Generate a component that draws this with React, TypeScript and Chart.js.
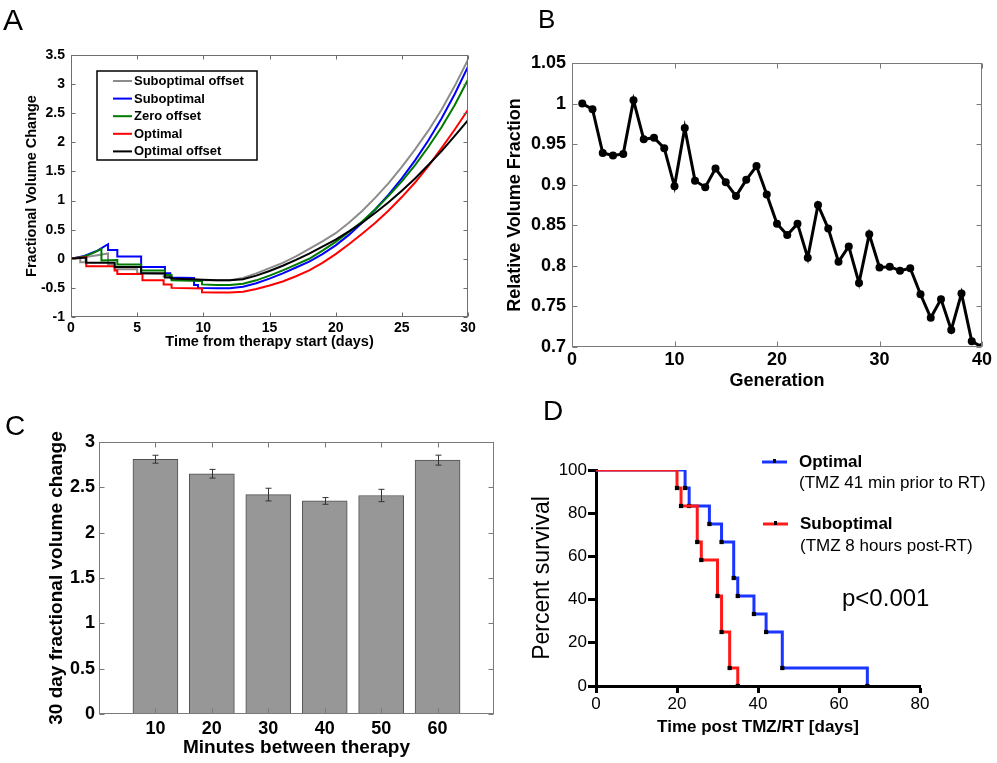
import React, { useEffect, useRef } from "react";
import { Chart, registerables } from "chart.js";

Chart.register(...registerables);

const FONT = "'Liberation Sans', Arial, Helvetica, sans-serif";
Chart.defaults.font.family = FONT;
Chart.defaults.color = "#000";

type Pt = [number, number];

// ---------------- Panel A : fractional volume change vs time (days) ----------------
const aSuboptimalOffset: Pt[] = [
  [0, 0], [0.7, 0.02], [0.7, -0.06], [1.1, -0.06], [1.1, 0.03], [2.0, 0.06], [2.8, 0.09], [2.8, -0.1],
  [3.3, -0.1], [3.3, -0.18], [5.0, -0.18], [5.0, -0.25], [7.0, -0.26], [7.0, -0.31], [7.6, -0.31],
  [7.6, -0.34], [10, -0.37], [11, -0.37], [12, -0.37], [13, -0.33], [14, -0.25], [15, -0.16],
  [16, -0.07], [17, 0.04], [18, 0.17], [19, 0.3], [20, 0.44], [21, 0.62], [22, 0.82], [23, 1.05],
  [24, 1.3], [25, 1.58], [26, 1.88], [27, 2.2], [28, 2.56], [29, 2.97], [30, 3.42],
];
const aSuboptimal: Pt[] = [
  [0, 0], [1.0, 0.05], [2.0, 0.14], [2.8, 0.25], [2.8, 0.15], [3.5, 0.15], [3.5, 0.04], [5.3, 0.04],
  [5.3, -0.14], [7.1, -0.14], [7.1, -0.25], [7.5, -0.25], [7.5, -0.32], [9.3, -0.33], [9.3, -0.45],
  [9.6, -0.45], [9.6, -0.5], [11, -0.505], [12, -0.505], [13, -0.48], [14, -0.42], [15, -0.34],
  [16, -0.25], [17, -0.15], [18, -0.05], [19, 0.08], [20, 0.23], [21, 0.41], [22, 0.62], [23, 0.85],
  [24, 1.1], [25, 1.38], [26, 1.69], [27, 2.03], [28, 2.41], [29, 2.83], [30, 3.3],
];
const aZeroOffset: Pt[] = [
  [0, 0], [1.0, 0.04], [1.7, 0.1], [2.3, 0.17], [2.3, -0.03], [3.5, -0.02], [3.5, -0.1], [5.3, -0.1],
  [5.3, -0.2], [7.1, -0.2], [7.1, -0.28], [7.6, -0.28], [7.6, -0.37], [9.9, -0.38], [9.9, -0.44],
  [11, -0.45], [12, -0.45], [13, -0.43], [14, -0.37], [15, -0.29], [16, -0.2], [17, -0.1], [18, 0.0],
  [19, 0.14], [20, 0.29], [21, 0.46], [22, 0.64], [23, 0.85], [24, 1.08], [25, 1.33], [26, 1.61],
  [27, 1.92], [28, 2.26], [29, 2.64], [30, 3.08],
];
const aOptimal: Pt[] = [
  [0, 0], [1.15, 0.03], [1.15, -0.13], [3.3, -0.13], [3.3, -0.2], [3.5, -0.2], [3.5, -0.26], [5.4, -0.26],
  [5.4, -0.37], [7.0, -0.37], [7.0, -0.44], [7.6, -0.44], [7.6, -0.5], [9.9, -0.51], [9.9, -0.575],
  [11, -0.58], [12, -0.58], [13, -0.565], [14, -0.52], [15, -0.46], [16, -0.39], [17, -0.3], [18, -0.2],
  [19, -0.07], [20, 0.08], [21, 0.25], [22, 0.43], [23, 0.62], [24, 0.83], [25, 1.06], [26, 1.31],
  [27, 1.59], [28, 1.9], [29, 2.22], [30, 2.56],
];
const aOptimalOffset: Pt[] = [
  [0, 0], [1.15, 0.02], [1.15, -0.07], [3.3, -0.07], [3.3, -0.14], [5.3, -0.14], [5.3, -0.25], [7.1, -0.25],
  [7.1, -0.32], [7.6, -0.32], [7.6, -0.34], [10, -0.36], [11, -0.37], [12, -0.37], [13, -0.35],
  [14, -0.29], [15, -0.21], [16, -0.12], [17, -0.02], [18, 0.09], [19, 0.21], [20, 0.33], [21, 0.47],
  [22, 0.62], [23, 0.79], [24, 0.97], [25, 1.17], [26, 1.38], [27, 1.61], [28, 1.85], [29, 2.11],
  [30, 2.38],
];
const aLabels = ["Suboptimal offset", "Suboptimal", "Zero offset", "Optimal", "Optimal offset"];

// ---------------- Panel B : relative volume fraction per generation ----------------
const bGeneration = [
  1, 2, 3, 4, 5, 6, 7, 8, 9, 10, 11, 12, 13, 14, 15, 16, 17, 18, 19, 20,
  21, 22, 23, 24, 25, 26, 27, 28, 29, 30, 31, 32, 33, 34, 35, 36, 37, 38, 39, 40,
];
const bRelativeVolume = [
  1.0, 0.993, 0.939, 0.936, 0.938, 1.004, 0.956, 0.958, 0.945, 0.898,
  0.97, 0.905, 0.897, 0.92, 0.903, 0.886, 0.906, 0.923, 0.888, 0.852,
  0.838, 0.852, 0.81, 0.875, 0.846, 0.805, 0.824, 0.779, 0.839, 0.798,
  0.799, 0.794, 0.797, 0.765, 0.736, 0.759, 0.721, 0.766, 0.707, 0.7,
];

// ---------------- Panel C : 30 day fractional volume change ----------------
const cMinutes = [10, 20, 30, 40, 50, 60];
const cVolumeChange = [2.81, 2.65, 2.42, 2.35, 2.41, 2.8];
const cError = [0.044, 0.048, 0.07, 0.037, 0.068, 0.055];

// ---------------- Panel D : Kaplan-Meier survival ----------------
const dOptimalDays = [0, 22, 23, 28, 31, 34, 35, 39, 42, 46, 67];
const dOptimalSurvival = [100, 91.67, 83.33, 75, 66.67, 50, 41.67, 33.33, 25, 8.33, 0];
const dSuboptimalDays = [0, 20, 21, 25, 26, 30, 31, 33, 35];
const dSuboptimalSurvival = [100, 91.67, 83.33, 66.67, 58.33, 41.67, 25, 8.33, 0];

// ---------------- helpers ----------------
const fmt = (v: any) => String(Number(Number(v).toFixed(2)));

function framePlugin(o: { color: string; len: number; xVals?: number[]; yVals?: number[] }) {
  return {
    id: "frameTicks",
    afterDatasetsDraw(chart: any) {
      const { ctx, chartArea: ca, scales } = chart;
      const L = Math.round(ca.left) + 0.5;
      const R = Math.round(ca.right) - 0.5;
      const T = Math.round(ca.top) + 0.5;
      const B = Math.round(ca.bottom) - 0.5;
      ctx.save();
      ctx.strokeStyle = o.color;
      ctx.lineWidth = 1;
      ctx.strokeRect(L, T, R - L, B - T);
      const xs = o.xVals ?? scales.x.ticks.map((t: any) => t.value);
      const ys = o.yVals ?? scales.y.ticks.map((t: any) => t.value);
      ctx.beginPath();
      for (const v of xs) {
        const p = Math.round(scales.x.getPixelForValue(v)) + 0.5;
        ctx.moveTo(p, B);
        ctx.lineTo(p, B - o.len);
        ctx.moveTo(p, T);
        ctx.lineTo(p, T + o.len);
      }
      for (const v of ys) {
        const p = Math.round(scales.y.getPixelForValue(v)) + 0.5;
        ctx.moveTo(L, p);
        ctx.lineTo(L + o.len, p);
        ctx.moveTo(R, p);
        ctx.lineTo(R - o.len, p);
      }
      ctx.stroke();
      ctx.restore();
    },
  };
}

type TextItem = {
  text: string;
  x: number;
  y: number;
  size: number;
  weight?: string;
  baseline?: CanvasTextBaseline;
};

function textPlugin(items: TextItem[]) {
  return {
    id: "texts",
    afterDraw(chart: any) {
      const ctx = chart.ctx;
      ctx.save();
      ctx.fillStyle = "#000";
      ctx.textAlign = "left";
      for (const it of items) {
        ctx.font = `${it.weight ?? "normal"} ${it.size}px ${FONT}`;
        ctx.textBaseline = it.baseline ?? "middle";
        ctx.fillText(it.text, it.x, it.y);
      }
      ctx.restore();
    },
  };
}

const legendAPlugin = {
  id: "legendA",
  afterDraw(chart: any) {
    const { ctx, chartArea: ca } = chart;
    const bx = ca.left + 26;
    const by = ca.top + 16;
    ctx.save();
    ctx.fillStyle = "#fff";
    ctx.fillRect(bx, by, 160, 89);
    ctx.strokeStyle = "#000";
    ctx.lineWidth = 1.5;
    ctx.strokeRect(bx, by, 160, 89);
    ctx.font = `bold 13px ${FONT}`;
    ctx.textBaseline = "middle";
    ctx.fillStyle = "#000";
    chart.data.datasets.forEach((ds: any, i: number) => {
      const y = by + 10 + i * 17.6;
      ctx.strokeStyle = ds.borderColor;
      ctx.lineWidth = 2;
      ctx.beginPath();
      ctx.moveTo(bx + 16, y);
      ctx.lineTo(bx + 35, y);
      ctx.stroke();
      ctx.fillText(ds.label, bx + 37, y + 0.5);
    });
    ctx.restore();
  },
};

const errorBarPlugin = {
  id: "errorBars",
  afterDatasetsDraw(chart: any) {
    const { ctx, scales } = chart;
    ctx.save();
    ctx.strokeStyle = "#333";
    ctx.lineWidth = 1;
    ctx.beginPath();
    cMinutes.forEach((m, i) => {
      const x = Math.round(scales.x.getPixelForValue(m)) + 0.5;
      const yt = scales.y.getPixelForValue(cVolumeChange[i] + cError[i]);
      const yb = scales.y.getPixelForValue(cVolumeChange[i] - cError[i]);
      ctx.moveTo(x, yt);
      ctx.lineTo(x, yb);
      ctx.moveTo(x - 3, yt);
      ctx.lineTo(x + 3, yt);
      ctx.moveTo(x - 3, yb);
      ctx.lineTo(x + 3, yb);
    });
    ctx.stroke();
    ctx.restore();
  },
};

const legendDPlugin = {
  id: "legendD",
  afterDraw(chart: any) {
    const ctx = chart.ctx;
    const items = [
      { color: chart.data.datasets[1].borderColor, x: 262, y: 82 },
      { color: chart.data.datasets[0].borderColor, x: 263, y: 144 },
    ];
    ctx.save();
    for (const it of items) {
      ctx.strokeStyle = it.color;
      ctx.lineWidth = 3;
      ctx.beginPath();
      ctx.moveTo(it.x, it.y);
      ctx.lineTo(it.x + 25, it.y);
      ctx.stroke();
      ctx.fillStyle = "#000";
      ctx.fillRect(it.x + 11, it.y - 3, 3, 4);
    }
    ctx.restore();
  },
};

const baseOpts = {
  responsive: false,
  animation: false,
  devicePixelRatio: 1,
  events: [] as any[],
  plugins: { legend: { display: false }, tooltip: { enabled: false } },
};

const noGrid = { display: false, drawTicks: false };

// ---------------- chart builders ----------------
function buildA(): any {
  const colors = ["#8c8c8c", "#0000ff", "#007a00", "#ff0000", "#000000"];
  const series = [aSuboptimalOffset, aSuboptimal, aZeroOffset, aOptimal, aOptimalOffset];
  return {
    type: "line",
    data: {
      datasets: series.map((s, i) => ({
        label: aLabels[i],
        data: s.map(([x, y]) => ({ x, y })),
        borderColor: colors[i],
        backgroundColor: colors[i],
        borderWidth: 2,
        pointRadius: 0,
        tension: 0,
        order: 4 - i,
      })),
    },
    options: {
      ...baseOpts,
      layout: { padding: { left: 23, top: 55, right: 32, bottom: 29.6 } },
      scales: {
        x: {
          type: "linear", min: 0, max: 30,
          ticks: { stepSize: 5, font: { size: 14, weight: "bold" }, color: "#000", padding: 3, maxRotation: 0 },
          grid: noGrid, border: { display: false },
          title: { display: true, text: "Time from therapy start (days)", font: { size: 14.5, weight: "bold" }, color: "#000", padding: 0 },
          afterFit: (s: any) => { s.height = 33.4; },
        },
        y: {
          type: "linear", min: -1, max: 3.5,
          ticks: { stepSize: 0.5, font: { size: 14, weight: "bold" }, color: "#000", padding: 6, callback: fmt },
          grid: noGrid, border: { display: false },
          title: { display: true, text: "Fractional Volume Change", font: { size: 14.5, weight: "bold" }, color: "#000", padding: 0 },
          afterFit: (s: any) => { s.width = 48; },
        },
      },
    },
    plugins: [
      framePlugin({ color: "#6e6e6e", len: 4 }),
      legendAPlugin,
      textPlugin([{ text: "A", x: 3, y: 30, size: 30, baseline: "alphabetic" }]),
    ],
  };
}

function buildB(): any {
  return {
    type: "line",
    data: {
      datasets: [{
        data: bGeneration.map((g, i) => ({ x: g, y: bRelativeVolume[i] })),
        borderColor: "#000", backgroundColor: "#000",
        borderWidth: 3, pointRadius: 4, pointBackgroundColor: "#000", pointBorderWidth: 0, tension: 0,
      }],
    },
    options: {
      ...baseOpts,
      layout: { padding: { left: 4, top: 63, right: 15, bottom: 3.2 } },
      scales: {
        x: {
          type: "linear", min: 0, max: 40,
          ticks: { stepSize: 10, font: { size: 18, weight: "bold" }, color: "#000", padding: 2, maxRotation: 0 },
          grid: noGrid, border: { display: false },
          title: { display: true, text: "Generation", font: { size: 18, weight: "bold" }, color: "#000", padding: 0 },
          afterFit: (s: any) => { s.height = 44.8; },
        },
        y: {
          type: "linear", min: 0.7, max: 1.05,
          ticks: { stepSize: 0.05, font: { size: 18, weight: "bold" }, color: "#000", padding: 6, callback: fmt },
          grid: noGrid, border: { display: false },
          title: { display: true, text: "Relative Volume Fraction", font: { size: 18, weight: "bold" }, color: "#000", padding: 0 },
          afterFit: (s: any) => { s.width = 68; },
        },
      },
    },
    plugins: [
      framePlugin({ color: "#7a7a7a", len: 5 }),
      textPlugin([{ text: "B", x: 38, y: 28, size: 26, baseline: "alphabetic" }]),
    ],
  };
}

function buildC(): any {
  return {
    type: "bar",
    data: {
      datasets: [{
        data: cMinutes.map((m, i) => ({ x: m, y: cVolumeChange[i] })),
        backgroundColor: "#979797", borderColor: "#505050", borderWidth: 1, barThickness: 45,
      }],
    },
    options: {
      ...baseOpts,
      layout: { padding: { left: 45, top: 62, right: 6, bottom: 3.6 } },
      scales: {
        x: {
          type: "linear", min: 0, max: 70, offset: false,
          ticks: {
            stepSize: 10, font: { size: 18, weight: "bold" }, color: "#000", padding: 4, maxRotation: 0,
            callback: (v: any) => (v >= 10 && v <= 60 ? String(v) : null),
          },
          grid: { display: false, drawTicks: false, offset: false }, border: { display: false },
          title: { display: true, text: "Minutes between therapy", font: { size: 19, weight: "bold" }, color: "#000", padding: 0 },
          afterFit: (s: any) => { s.height = 45.4; },
        },
        y: {
          type: "linear", min: 0, max: 3,
          ticks: { stepSize: 0.5, font: { size: 18, weight: "bold" }, color: "#000", padding: 4, callback: fmt },
          grid: noGrid, border: { display: false },
          title: { display: true, text: "30 day fractional volume change", font: { size: 19, weight: "bold" }, color: "#000", padding: 0 },
          afterFit: (s: any) => { s.width = 54; },
        },
      },
    },
    plugins: [
      errorBarPlugin,
      framePlugin({ color: "#7a7a7a", len: 5, xVals: cMinutes }),
      textPlugin([{ text: "C", x: 5, y: 55, size: 28, baseline: "alphabetic" }]),
    ],
  };
}

function buildD(): any {
  const marks = (n: number) => Array.from({ length: n }, (_, i) => (i === 0 ? 0 : 3));
  return {
    type: "line",
    data: {
      datasets: [
        {
          label: "Suboptimal",
          data: dSuboptimalDays.map((d, i) => ({ x: d, y: dSuboptimalSurvival[i] })),
          borderColor: "#ff1a1a", borderWidth: 3, stepped: "before",
          pointStyle: "rect", pointRadius: marks(dSuboptimalDays.length),
          pointBackgroundColor: "#000", pointBorderColor: "#000", pointBorderWidth: 0,
        },
        {
          label: "Optimal",
          data: dOptimalDays.map((d, i) => ({ x: d, y: dOptimalSurvival[i] })),
          borderColor: "#1a35ff", borderWidth: 3, stepped: "before",
          pointStyle: "rect", pointRadius: marks(dOptimalDays.length),
          pointBackgroundColor: "#000", pointBorderColor: "#000", pointBorderWidth: 0,
        },
      ],
    },
    options: {
      ...baseOpts,
      layout: { padding: { left: 29, top: 90, right: 77, bottom: 25.3 } },
      scales: {
        x: {
          type: "linear", min: 0, max: 80,
          ticks: { stepSize: 20, font: { size: 17 }, color: "#000", padding: 1, maxRotation: 0 },
          grid: { drawOnChartArea: false, drawTicks: true, tickLength: 7, tickWidth: 3, tickColor: "#000" },
          border: { display: true, width: 3, color: "#000" },
          title: { display: true, text: "Time post TMZ/RT [days]", font: { size: 17, weight: "bold" }, color: "#000", padding: 0 },
          afterFit: (s: any) => { s.height = 51.7; },
        },
        y: {
          type: "linear", min: 0, max: 100,
          ticks: { stepSize: 20, font: { size: 17 }, color: "#000", padding: 1 },
          grid: { drawOnChartArea: false, drawTicks: true, tickLength: 8, tickWidth: 3, tickColor: "#000" },
          border: { display: true, width: 3, color: "#000" },
          title: { display: true, text: "Percent survival", font: { size: 23 }, color: "#000", padding: 0 },
          afterFit: (s: any) => { s.width = 67; },
        },
      },
    },
    plugins: [
      legendDPlugin,
      textPlugin([
        { text: "D", x: 43, y: 40, size: 28, baseline: "alphabetic" },
        { text: "Optimal", x: 299, y: 82, size: 17, weight: "bold" },
        { text: "(TMZ 41 min prior to RT)", x: 299, y: 103, size: 17 },
        { text: "Suboptimal", x: 300, y: 144, size: 17, weight: "bold" },
        { text: "(TMZ 8 hours post-RT)", x: 300, y: 166, size: 17 },
        { text: "p<0.001", x: 342, y: 219, size: 24 },
      ]),
    ],
  };
}

function Panel({ left, top, width, height, build }: { left: number; top: number; width: number; height: number; build: () => any }) {
  const ref = useRef<HTMLCanvasElement | null>(null);
  useEffect(() => {
    const chart = new Chart(ref.current as HTMLCanvasElement, build());
    return () => chart.destroy();
  }, []);
  return (
    <canvas
      ref={ref}
      width={width}
      height={height}
      style={{ position: "absolute", left, top, width, height }}
    />
  );
}

export default function App() {
  return (
    <div style={{ position: "absolute", left: 0, top: 0, width: 997, height: 763, background: "#fff", overflow: "hidden" }}>
      <Panel left={0} top={0} width={500} height={380} build={buildA} />
      <Panel left={500} top={0} width={497} height={395} build={buildB} />
      <Panel left={0} top={380} width={500} height={383} build={buildC} />
      <Panel left={500} top={380} width={497} height={383} build={buildD} />
    </div>
  );
}
